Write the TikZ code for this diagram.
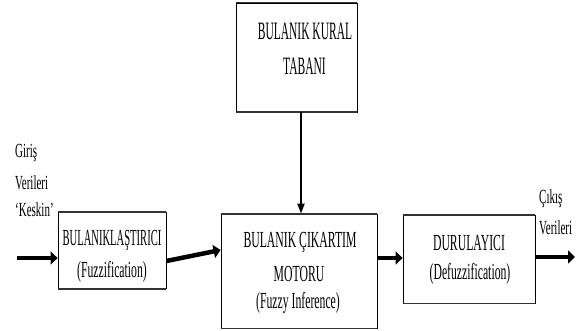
\documentclass[tikz,border=0pt]{standalone}
\usepackage{fontspec}
\setmainfont[FakeStretch=0.51]{Liberation Serif}
\newfontfamily\sidefont[FakeStretch=0.55]{Liberation Serif}
\newfontfamily\tightfont[FakeStretch=0.46]{Liberation Serif}
\usetikzlibrary{arrows.meta}
\begin{document}
\begin{tikzpicture}[x=1pt,y=-1pt,
  blk/.style={draw=black,line width=0.8pt,inner sep=0pt},
  hedge/.style={draw=black!80,line width=1.8pt},
  flow/.style={line width=4.5pt,-{Triangle[length=7pt,width=13pt]}},
  feed/.style={line width=2pt,-{Triangle[length=10pt,width=7pt]}},
  lbl/.style={font=\fontsize{23}{23}\selectfont,inner sep=0pt},
  tall/.style={font=\tightfont\fontsize{25}{25}\selectfont,inner sep=0pt},
  side/.style={font=\sidefont\fontsize{20}{20}\selectfont,inner sep=0pt,anchor=west}]
\useasboundingbox (0,0) rectangle (583,331);
% blocks
\node[blk,minimum width=121pt,minimum height=109pt] (rules) at (296.5,57.5) {};
\node[blk,minimum width=108pt,minimum height=76pt] (fuzz) at (112,250.5) {};
\node[blk,minimum width=156pt,minimum height=114pt] (inf) at (299,271) {};
\node[blk,minimum width=132pt,minimum height=88pt] (defuzz) at (469,259) {};
% heavier top and bottom edges
\foreach \b in {rules,fuzz,inf,defuzz}{
  \draw[hedge] (\b.north west) -- (\b.north east);
  \draw[hedge] (\b.south west) -- (\b.south east);
}
% block texts
\node[tall] (r1) at (305,31.5) {BULANIK KURAL};
\node[tall] (r2) at (304.5,66) {TABANI};
\node[lbl,font=\tightfont\fontsize{23}{23}\selectfont] (f1) at (112,240) {BULANIKLAŞTIRICI};
\node[lbl] (f2) at (112,272) {(Fuzzification)};
\node[lbl] (i1) at (300,242) {BULANIK ÇIKARTIM};
\node[lbl] (i2) at (299,274) {MOTORU};
\node[lbl] (i3) at (298,303) {(Fuzzy Inference)};
\node[lbl] (d1) at (469,243) {DURULAYICI};
\node[lbl] (d2) at (470,274) {(Defuzzification)};
% input / output labels
\node[side] (in1) at (15,153) {Giriş};
\node[side] (in2) at (15,183) {Verileri};
\node[side] (in3) at (15,210) {‘Keskin’};
\node[side] (out1) at (539,199) {Çıkış};
\node[side] (out2) at (539,228) {Verileri};
% connectors
\coordinate (src) at (17,258);
\coordinate (dst) at (575,257);
\draw[flow] (src) -- (fuzz.west |- src);
\draw[flow] (fuzz.east |- 0,261) -- (inf.west |- 0,250);
\draw[flow] (inf.east |- 0,258) -- (defuzz.west |- 0,258);
\draw[flow] (defuzz.east |- dst) -- (dst);
\draw[feed] (rules.south -| 301,0) -- (inf.north -| 301,0);
\end{tikzpicture}
\end{document}
